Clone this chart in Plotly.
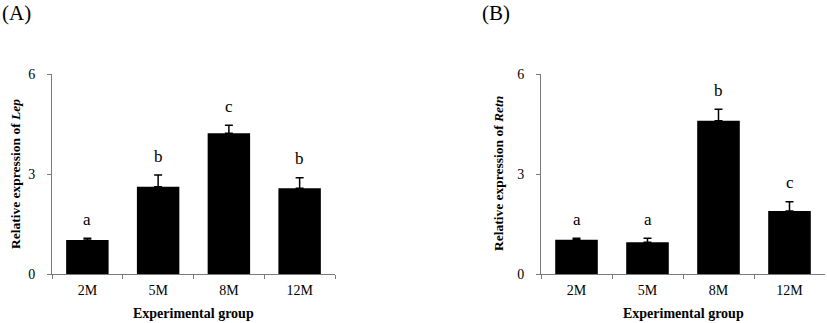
import plotly.graph_objects as go

# Relative expression by age group
groups = ["2M", "5M", "8M", "12M"]

lep_mean = [1.02, 2.62, 4.22, 2.57]
lep_err = [0.05, 0.35, 0.24, 0.32]
lep_letters = ["a", "b", "c", "b"]

retn_mean = [1.03, 0.95, 4.60, 1.89]
retn_err = [0.04, 0.12, 0.34, 0.28]
retn_letters = ["a", "a", "b", "c"]

y_ticks = [0, 3, 6]

W, H = 827, 323
FONT = "Liberation Serif, Times New Roman, serif"


def px_x(p):
    return p / W


def px_y(p):
    return 1 - p / H


panels = [
    dict(name="(A)", gene="Lep", mean=lep_mean, err=lep_err, letters=lep_letters,
         x0=52, x1=335, title_x=15, label_x=0, xa="x", ya="y"),
    dict(name="(B)", gene="Retn", mean=retn_mean, err=retn_err, letters=retn_letters,
         x0=541, x1=825, title_x=498, label_x=480, xa="x2", ya="y2"),
]

fig = go.Figure()
annotations = []
y_dom = [px_y(274), px_y(74)]

for i, p in enumerate(panels):
    fig.add_trace(go.Bar(
        x=groups, y=p["mean"], xaxis=p["xa"], yaxis=p["ya"],
        marker=dict(color="black", line=dict(width=0)),
        width=0.6,
        error_y=dict(type="data", array=p["err"], arrayminus=[0] * len(p["err"]),
                     symmetric=False, color="black", thickness=1.5, width=4),
        showlegend=False,
    ))
    suffix = "" if i == 0 else "2"
    fig.update_layout(**{
        "xaxis" + suffix: dict(
            domain=[px_x(p["x0"]), px_x(p["x1"])], anchor="y" + suffix,
            type="category", range=[-0.5, 3.5], automargin=False,
            showline=True, linecolor="#7a7a7a", linewidth=1,
            ticks="outside", tickson="boundaries", ticklen=4, tickcolor="#7a7a7a",
            ticklabelstandoff=3,
            showgrid=False, zeroline=False,
            tickfont=dict(family=FONT, size=14, color="black"),
        ),
        "yaxis" + suffix: dict(
            domain=y_dom, anchor="x" + suffix, range=[0, 6], automargin=False,
            tickvals=y_ticks, ticktext=[str(t) for t in y_ticks],
            showline=True, linecolor="#7a7a7a", linewidth=1,
            ticks="outside", ticklen=4, tickcolor="#7a7a7a",
            ticklabelstandoff=9,
            showgrid=False, zeroline=False,
            tickfont=dict(family=FONT, size=14, color="black"),
        ),
    })
    # significance letters above error bars
    for g, m, e, t in zip(groups, p["mean"], p["err"], p["letters"]):
        annotations.append(dict(
            x=g, y=m + e, xref=p["xa"], yref=p["ya"], text=t, showarrow=False,
            yanchor="middle", yshift=19,
            font=dict(family=FONT, size=17, color="black"),
        ))
    # axis titles
    annotations.append(dict(
        x=px_x(p["title_x"]), y=px_y(174), xref="paper", yref="paper",
        text="<b>Relative expression of <i>%s</i></b>" % p["gene"],
        textangle=-90, showarrow=False, xanchor="center", yanchor="middle",
        font=dict(family=FONT, size=13.5, color="black"),
    ))
    annotations.append(dict(
        x=px_x((p["x0"] + p["x1"]) / 2), y=px_y(313), xref="paper", yref="paper",
        text="<b>Experimental group</b>", showarrow=False,
        xanchor="center", yanchor="middle",
        font=dict(family=FONT, size=14, color="black"),
    ))
    # panel label
    annotations.append(dict(
        x=px_x(p["label_x"]), y=px_y(13), xref="paper", yref="paper",
        text=p["name"], showarrow=False, xanchor="left", yanchor="middle",
        font=dict(family=FONT, size=21, color="black"),
    ))

fig.update_layout(
    width=W, height=H,
    margin=dict(l=0, r=0, t=0, b=0),
    paper_bgcolor="white", plot_bgcolor="white",
    font=dict(family=FONT, color="black"),
    bargap=0.4,
    annotations=annotations,
)

fig.write_html("out.html")
